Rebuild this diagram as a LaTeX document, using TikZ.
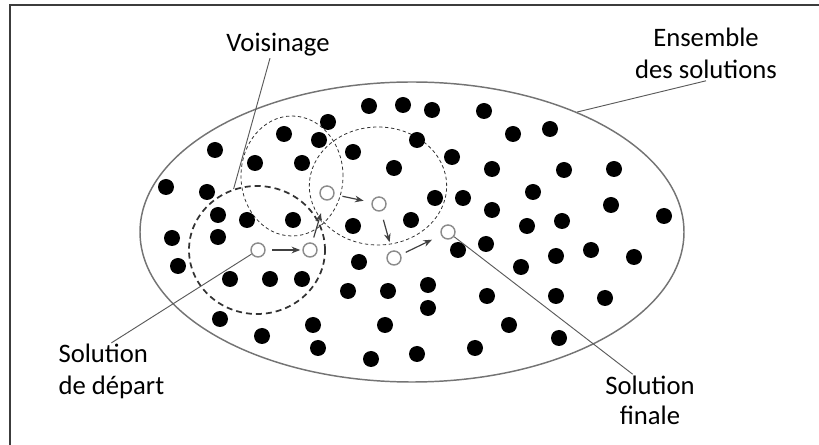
\documentclass[tikz,border=0pt]{standalone}
\usepackage{fontspec}
\setmainfont{Carlito}
\usetikzlibrary{arrows.meta, shapes.geometric}
\definecolor{FrameGrey}{HTML}{3C3C3C}
\definecolor{EdgeGrey}{HTML}{747474}
\definecolor{LeadGrey}{HTML}{5A5A5A}
\definecolor{RingGrey}{HTML}{8C8C8C}

\begin{document}
\begin{tikzpicture}[x=0.75pt, y=-0.75pt, >={Stealth[length=6.5pt, width=5pt]},
    lbl/.style={font=\fontsize{20}{24}\selectfont, inner sep=1pt},
    hood/.style={ellipse, draw=black!80, inner sep=0pt, line width=0.6pt,
                 dash pattern=on 2.5pt off 2pt},
    sol/.style={circle, draw=RingGrey, line width=1.1pt, fill=white,
                minimum size=10.5pt, inner sep=0pt},
    lead/.style={draw=LeadGrey, line width=0.7pt},
    move/.style={->, draw=black!75, line width=0.9pt}]
  \useasboundingbox (0,0) rectangle (819,445);
  % --- Frame ---
  \draw[FrameGrey, line width=1.1pt] (10,445) -- (10,5) -- (819,5);
  % --- Set of solutions ---
  \node[ellipse, draw=EdgeGrey, line width=1.1pt, inner sep=0pt,
        minimum width=408pt, minimum height=225pt] (ens) at (412,232) {};
  % --- Neighbourhoods ---
  \node[hood, minimum width=76.5pt, minimum height=90pt] (v2) at (292,176) {};
  \node[hood, minimum width=103pt, minimum height=88.5pt] (v3) at (378,186) {};
  \node[hood, line width=1.3pt, dash pattern=on 4.5pt off 3pt,
        minimum width=102pt, minimum height=96pt] (v1) at (257,250) {};
  % --- Solutions ---
  \foreach \px/\py in {369/106, 403/105, 432/110, 484/111, 328/122, 284/134,
      319/140, 215/150, 353/152, 417/140, 513/134, 550/129, 452/157, 255/163,
      302/163, 394/168, 492/169, 564/170, 614/169, 166/187, 207/192, 533/192,
      435/198, 463/198, 611/205, 492/210, 218/215, 247/220, 293/220, 353/226,
      411/220, 527/226, 562/221, 664/216, 172/238, 218/237, 486/244, 458/250,
      556/256, 591/250, 634/257, 178/266, 359/262, 521/267, 230/279, 270/279,
      302/279, 348/291, 388/291, 428/285, 428/308, 487/296, 556/296, 605/298,
      220/319, 313/325, 385/325, 509/325, 262/336, 318/348, 371/359, 417/354,
      475/348, 559/338}
    \fill (\px,\py) circle[radius=6pt];
  \node[sol] (s1) at (258,250) {};
  \node[sol] (s2) at (310,250) {};
  \node[sol] (s3) at (327,193) {};
  \node[sol] (s4) at (379,204) {};
  \node[sol] (s5) at (394,258) {};
  \node[sol] (s6) at (448,232) {};
  % --- Moves ---
  \draw[move, shorten <=5pt, shorten >=1.5pt] (s1) -- (s2);
  \draw[move, shorten <=4pt, shorten >=10pt] (s2) -- (s3);
  \draw[move, shorten <=6pt, shorten >=6pt] (s3) -- (s4);
  \draw[move, shorten <=6.5pt, shorten >=6.5pt] (s4) -- (s5);
  \draw[move, shorten <=4pt, shorten >=7.5pt] (s5) -- (s6);
  % --- Labels ---
  \node[lbl, anchor=base] (vois) at (278,52) {Voisinage};
  \node[lbl, anchor=base, align=center] (ensl) at (706,79) {Ensemble\\des solutions};
  \node[lbl, anchor=base west, align=left] (dep) at (57,395) {Solution\\de départ};
  \node[lbl, anchor=base, align=center, font=\fontsize{20}{23}\selectfont]
    (fin) at (650,425) {Solution\\finale};
  \draw[lead] ([xshift=-6pt]vois.south) -- (v1.111);
  \draw[lead] (ensl.south) -- (ens.36);
  \draw[lead] (dep.north) -- (s1);
  \draw[lead] ([xshift=-13pt]fin.north) -- (s6);
\end{tikzpicture}
\end{document}
